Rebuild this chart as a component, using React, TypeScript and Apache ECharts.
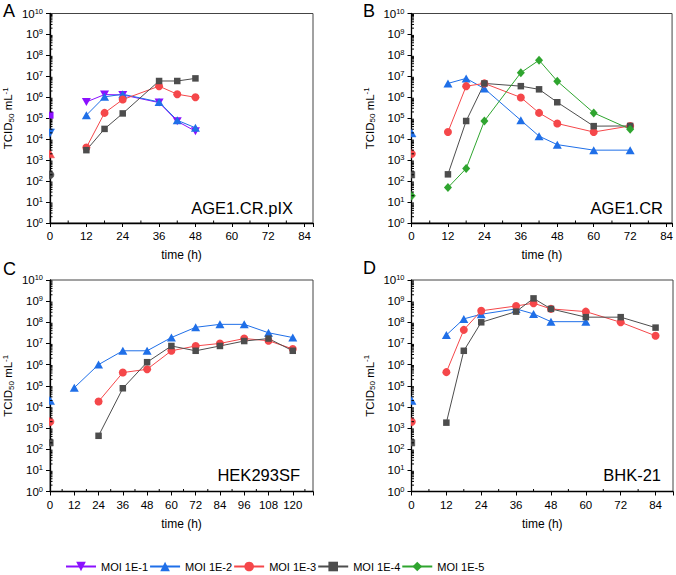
import React, { useEffect, useRef } from 'react';
import * as echarts from 'echarts';

const FONT = "'Liberation Sans', Arial, Helvetica, sans-serif";

const SERIES_NAMES = ['MOI 1E-1', 'MOI 1E-2', 'MOI 1E-3', 'MOI 1E-4', 'MOI 1E-5'];
const PANEL_LETTERS = ['A', 'B', 'C', 'D'];
const CELL_LINES = ['AGE1.CR.pIX', 'AGE1.CR', 'HEK293SF', 'BHK-21'];
const X_AXIS_NAME = 'time (h)';

// Panel A: AGE1.CR.pIX
const timeA = [12, 18, 24, 36, 42, 48];
const aMoi1 = [6.0e5, 1.35e6, 1.3e6, 5.6e5, 7.2e4, 2.4e4];
const aMoi2 = [1.4e5, 1.05e6, 1.4e6, 6.0e5, 8.0e4, 3.5e4];
const aMoi3 = [4.0e3, 1.8e5, 7.8e5, 3.4e6, 1.4e6, 1.0e6];
const aMoi4 = [3.0e3, 3.1e4, 1.7e5, 6.0e6, 6.0e6, 8.0e6];
const aInoculum = [1.4e5, 2.0e4, 2.0e3, 2.0e2];

// Panel B: AGE1.CR
const timeB = [12, 18, 24, 36, 42, 48, 60, 72];
const bMoi2 = [4.6e6, 8.0e6, 2.6e6, 8.0e4, 1.4e4, 5.5e3, 3.0e3, 3.0e3];
const bMoi3 = [2.2e4, 3.4e6, 4.6e6, 9.8e5, 1.8e5, 5.6e4, 2.2e4, 4.3e4];
const bMoi4 = [2.1e2, 7.4e4, 4.6e6, 3.4e6, 2.4e6, 5.8e5, 4.2e4, 4.3e4];
const bMoi5 = [4.9e1, 4.0e2, 7.4e4, 1.5e7, 5.9e7, 5.9e6, 1.8e5, 3.0e4];
const bInoculum = [2.0e4, 2.0e3, 2.0e2, 2.0e1];

// Panel C: HEK293SF
const timeC2 = [12, 24, 36, 48, 60, 72, 84, 96, 108, 120];
const timeC = [24, 36, 48, 60, 72, 84, 96, 108, 120];
const cMoi2 = [8.1e4, 1.0e6, 4.5e6, 4.5e6, 1.9e7, 5.8e7, 8.0e7, 8.0e7, 3.2e7, 1.9e7];
const cMoi3 = [1.8e4, 4.2e5, 6.0e5, 4.5e6, 7.6e6, 1.0e7, 1.7e7, 1.35e7, 5.5e6];
const cMoi4 = [4.3e2, 7.6e4, 1.3e6, 7.6e6, 4.5e6, 7.6e6, 1.3e7, 1.7e7, 4.5e6];
const cInoculum = [2.0e4, 2.0e3, 2.0e2];

// Panel D: BHK-21
const timeD2 = [12, 18, 24, 36, 42, 48, 60];
const timeD = [12, 18, 24, 36, 42, 48, 60, 72, 84];
const dMoi2 = [2.5e7, 1.45e8, 2.4e8, 4.3e8, 2.5e8, 1.07e8, 1.07e8];
const dMoi3 = [4.4e5, 4.4e7, 3.5e8, 5.9e8, 8.0e8, 4.3e8, 3.2e8, 1.0e8, 2.3e7];
const dMoi4 = [1.8e3, 4.5e6, 1.0e8, 3.2e8, 1.35e9, 4.3e8, 1.75e8, 1.75e8, 5.6e7];
const dInoculum = [2.0e4, 2.0e3, 2.0e2];

const STYLE: Record<string, any> = {
  'MOI 1E-1': { color: '#8B10FF', symbol: 'triangle', rotate: 180, size: [9, 8] },
  'MOI 1E-2': { color: '#1F6FE8', symbol: 'triangle', rotate: 0, size: [9, 8] },
  'MOI 1E-3': { color: '#F5474A', symbol: 'circle', rotate: 0, size: 8 },
  'MOI 1E-4': { color: '#4D4D4D', symbol: 'rect', rotate: 0, size: 6.5 },
  'MOI 1E-5': { color: '#2FA52F', symbol: 'diamond', rotate: 0, size: [8, 9] },
};

const C1 = STYLE['MOI 1E-1'].color;
const C2 = STYLE['MOI 1E-2'].color;
const C3 = STYLE['MOI 1E-3'].color;
const C4 = STYLE['MOI 1E-4'].color;
const C5 = STYLE['MOI 1E-5'].color;

const PANELS = [
  {
    grid: { left: 49.5, top: 13.5, width: 263.5, height: 209.5 },
    xMax: 86.8,
    lines: [
      ['MOI 1E-1', timeA, aMoi1],
      ['MOI 1E-2', timeA, aMoi2],
      ['MOI 1E-3', timeA, aMoi3],
      ['MOI 1E-4', timeA, aMoi4],
    ],
    inoc: aInoculum,
    inocMarkers: [['rect', C1], ['triangleDown', C2], ['triangle', C3], ['circle', C4]],
    letterPos: [3, 11],
    textPos: [293, 207.5],
  },
  {
    grid: { left: 411.5, top: 13.5, width: 261.5, height: 209.5 },
    xMax: 85.8,
    lines: [
      ['MOI 1E-2', timeB, bMoi2],
      ['MOI 1E-3', timeB, bMoi3],
      ['MOI 1E-4', timeB, bMoi4],
      ['MOI 1E-5', timeB, bMoi5],
    ],
    inoc: bInoculum,
    inocMarkers: [['triangle', C2], ['circle', C3], ['rect', C4], ['diamond', C5]],
    letterPos: [363, 11],
    textPos: [663, 207.5],
  },
  {
    grid: { left: 49.5, top: 280, width: 263.5, height: 211.5 },
    xMax: 130,
    lines: [
      ['MOI 1E-2', timeC2, cMoi2],
      ['MOI 1E-3', timeC, cMoi3],
      ['MOI 1E-4', timeC, cMoi4],
    ],
    inoc: cInoculum,
    inocMarkers: [['triangle', C2], ['circle', C3], ['rect', C4]],
    letterPos: [3, 269],
    textPos: [300, 474.5],
  },
  {
    grid: { left: 411.5, top: 280, width: 261.5, height: 211.5 },
    xMax: 90,
    lines: [
      ['MOI 1E-2', timeD2, dMoi2],
      ['MOI 1E-3', timeD, dMoi3],
      ['MOI 1E-4', timeD, dMoi4],
    ],
    inoc: dInoculum,
    inocMarkers: [['triangle', C2], ['circle', C3], ['rect', C4]],
    letterPos: [363, 268],
    textPos: [661, 474.5],
  },
];

// axis decoration: minor tick positions (log 2..9 per decade, and half-interval on time axis)
const MINOR_LOG_TICKS: number[] = [];
for (let n = 0; n < 10; n++) {
  for (let k = 2; k <= 9; k++) MINOR_LOG_TICKS.push(k * Math.pow(10, n));
}
function minorTimeTicks(max: number) {
  const out: number[] = [];
  for (let t = 6; t < max; t += 12) out.push(t);
  return out;
}

function makeMarker(shape: string, cx: number, cy: number, color: string) {
  const style = { fill: color, stroke: color, lineWidth: 0.5 };
  if (shape === 'circle') return { type: 'circle', shape: { cx, cy, r: 4 }, style };
  if (shape === 'rect') return { type: 'rect', shape: { x: cx - 3.25, y: cy - 3.25, width: 6.5, height: 6.5 }, style };
  if (shape === 'triangle')
    return { type: 'polygon', shape: { points: [[cx, cy - 4], [cx + 4.5, cy + 4], [cx - 4.5, cy + 4]] }, style };
  if (shape === 'triangleDown')
    return { type: 'polygon', shape: { points: [[cx, cy + 4], [cx + 4.5, cy - 4], [cx - 4.5, cy - 4]] }, style };
  return { type: 'polygon', shape: { points: [[cx, cy - 4.5], [cx + 4, cy], [cx, cy + 4.5], [cx - 4, cy]] }, style };
}

function buildOption() {
  const axisLineStyle = { color: '#000', width: 1.3 };
  const grids: any[] = [];
  const xAxes: any[] = [];
  const yAxes: any[] = [];
  const series: any[] = [];
  const graphics: any[] = [];

  PANELS.forEach((p, i) => {
    grids.push({ ...p.grid, show: true, borderColor: '#444', borderWidth: 1, backgroundColor: 'transparent', containLabel: false });
    xAxes.push({
      type: 'value',
      gridIndex: i,
      min: 0,
      max: p.xMax,
      interval: 12,
      name: X_AXIS_NAME,
      nameLocation: 'middle',
      nameGap: 26,
      nameTextStyle: { fontSize: 12, color: '#000', fontFamily: FONT },
      axisLine: { show: true, onZero: false, lineStyle: axisLineStyle },
      axisTick: { show: true, length: 4, lineStyle: { color: '#000', width: 1 } },
      axisLabel: {
        fontSize: 11.5,
        color: '#000',
        fontFamily: FONT,
        margin: 7,
        formatter: (v: number) => (Math.abs(v % 12) < 1e-9 ? String(v) : ''),
      },
      splitLine: { show: false },
    });
    yAxes.push({
      type: 'log',
      logBase: 10,
      gridIndex: i,
      min: 1,
      max: 1e10,
      interval: 1,
      name: '{a|TCID}{s|50}{a| mL}{p|-1}',
      nameLocation: 'middle',
      nameGap: 35,
      nameTextStyle: {
        color: '#000',
        fontFamily: FONT,
        fontSize: 11.5,
        rich: {
          a: { fontSize: 11.5, lineHeight: 14, fontFamily: FONT, color: '#000' },
          s: { fontSize: 8, lineHeight: 8, verticalAlign: 'bottom', fontFamily: FONT, color: '#000' },
          p: { fontSize: 8, lineHeight: 8, verticalAlign: 'top', fontFamily: FONT, color: '#000' },
        },
      },
      axisLine: { show: true, onZero: false, lineStyle: axisLineStyle },
      axisTick: { show: true, length: 4, lineStyle: { color: '#000', width: 1 } },
      axisLabel: {
        margin: 7,
        color: '#000',
        fontFamily: FONT,
        formatter: (v: number) => `{a|10}{p|${Math.round(Math.log10(v))}}`,
        rich: {
          a: { fontSize: 11.5, lineHeight: 13, fontFamily: FONT, color: '#000' },
          p: { fontSize: 7.5, lineHeight: 7, verticalAlign: 'top', fontFamily: FONT, color: '#000' },
        },
      },
      splitLine: { show: false },
    });

    // minor log ticks (inside) on the y axis
    series.push({
      type: 'custom',
      xAxisIndex: i,
      yAxisIndex: i,
      clip: false,
      silent: true,
      z: 4,
      data: MINOR_LOG_TICKS.map((v) => [0, v]),
      renderItem: (_params: any, api: any) => {
        const pt = api.coord([0, api.value(1)]);
        return {
          type: 'line',
          shape: { x1: pt[0], y1: pt[1], x2: pt[0] + 2.5, y2: pt[1] },
          style: { stroke: '#000', lineWidth: 1 },
        };
      },
    });
    // minor time ticks (inside) on the x axis
    series.push({
      type: 'custom',
      xAxisIndex: i,
      yAxisIndex: i,
      clip: false,
      silent: true,
      z: 4,
      data: minorTimeTicks(p.xMax).map((t) => [t, 1]),
      renderItem: (_params: any, api: any) => {
        const pt = api.coord([api.value(0), 1]);
        return {
          type: 'line',
          shape: { x1: pt[0], y1: pt[1], x2: pt[0], y2: pt[1] - 2.5 },
          style: { stroke: '#000', lineWidth: 1 },
        };
      },
    });

    p.lines.forEach(([name, times, values]: any) => {
      const st = STYLE[name];
      series.push({
        type: 'line',
        name,
        xAxisIndex: i,
        yAxisIndex: i,
        data: times.map((t: number, j: number) => [t, values[j]]),
        symbol: st.symbol,
        symbolSize: st.size,
        symbolRotate: st.rotate,
        showSymbol: true,
        lineStyle: { color: st.color, width: 1 },
        itemStyle: { color: st.color },
        z: 3,
      });
    });

    const markers = p.inocMarkers;
    series.push({
      type: 'custom',
      xAxisIndex: i,
      yAxisIndex: i,
      clip: true,
      silent: true,
      z: 3,
      data: p.inoc.map((v: number) => [0, v]),
      renderItem: (params: any, api: any) => {
        const pt = api.coord([0, api.value(1)]);
        const m = markers[params.dataIndex];
        return makeMarker(m[0], pt[0], pt[1], m[1]);
      },
    });

    graphics.push({
      type: 'text',
      x: p.letterPos[0],
      y: p.letterPos[1],
      style: { text: PANEL_LETTERS[i], fontSize: 18, fontFamily: FONT, fill: '#000', verticalAlign: 'middle', align: 'left' },
    });
    graphics.push({
      type: 'text',
      x: p.textPos[0],
      y: p.textPos[1],
      style: { text: CELL_LINES[i], fontSize: 16.5, fontFamily: FONT, fill: '#000', verticalAlign: 'middle', align: 'right' },
    });
  });

  return {
    animation: false,
    backgroundColor: '#fff',
    textStyle: { fontFamily: FONT },
    grid: grids,
    xAxis: xAxes,
    yAxis: yAxes,
    series,
    graphic: graphics,
    legend: {
      data: SERIES_NAMES,
      left: 60,
      top: 556,
      itemWidth: 30,
      itemHeight: 12,
      itemGap: 1,
      textStyle: { fontSize: 11, color: '#000', fontFamily: FONT },
    },
  };
}

export default function App() {
  const ref = useRef<HTMLDivElement>(null);
  useEffect(() => {
    document.body.style.margin = '0';
    if (!ref.current) return;
    const chart = echarts.init(ref.current, null, { renderer: 'svg' });
    chart.setOption(buildOption() as any);
    return () => chart.dispose();
  }, []);
  return <div ref={ref} style={{ width: 676, height: 575 }} />;
}
